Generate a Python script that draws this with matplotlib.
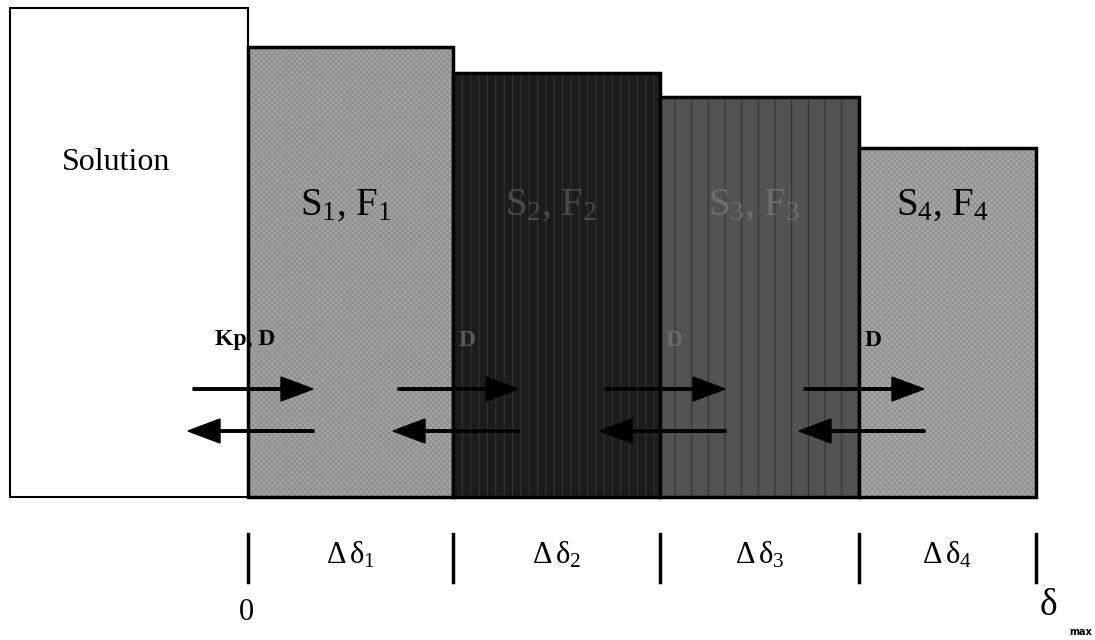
import matplotlib.pyplot as plt
from matplotlib.patches import Rectangle

plt.rcParams['font.family'] = ['Liberation Serif', 'DejaVu Serif']
plt.rcParams['mathtext.fontset'] = 'custom'
plt.rcParams['mathtext.rm'] = 'Liberation Serif'
plt.rcParams['mathtext.it'] = 'Liberation Serif'
plt.rcParams['hatch.linewidth'] = 0.6

# layer data (diagram units = pixels of the original drawing)
layer_edges = [248, 453, 660, 859, 1036]
layer_tops = [47, 73, 97, 148]
layer_bottom = 497
layer_names = ['S$_1$, F$_1$', 'S$_2$, F$_2$', 'S$_3$, F$_3$', 'S$_4$, F$_4$']
layer_colors = ['#a3a3a3', '#1c1c1c', '#525252', '#a6a6a6']
hatch_colors = ['#8a8a8a', '#3a3a3a', '#2a2a2a', '#8c8c8c']
hatches = ['xxxxxx', '||', '|', 'xxxxxx']
text_colors = ['black', '#4a4a4a', '#6e6e6e', 'black']
flux_labels = ['Kp, D', 'D', 'D', 'D']
flux_colors = ['black', '#5a5a5a', '#6a6a6a', 'black']
thickness_labels = [r'$\Delta\,\delta_1$', r'$\Delta\,\delta_2$',
                    r'$\Delta\,\delta_3$', r'$\Delta\,\delta_4$']

fig = plt.figure(figsize=(10.95, 6.4), dpi=100)
ax = fig.add_axes([0, 0, 1, 1])
ax.set_xlim(0, 1095)
ax.set_ylim(640, 0)
ax.axis('off')

# solution compartment
ax.add_patch(Rectangle((10, 8), layer_edges[0] - 10, layer_bottom - 8,
                       facecolor='white', edgecolor='black', lw=1.5))
ax.text(116, 163, 'Solution', fontsize=23, ha='center', va='center')

# film layers
for i in range(4):
    x0, x1 = layer_edges[i], layer_edges[i + 1]
    top = layer_tops[i]
    ax.add_patch(Rectangle((x0, top), x1 - x0, layer_bottom - top,
                           facecolor=layer_colors[i], edgecolor=hatch_colors[i],
                           lw=0, hatch=hatches[i]))
    ax.add_patch(Rectangle((x0, top), x1 - x0, layer_bottom - top,
                           fill=False, edgecolor='black', lw=2.5))
    ax.text((x0 + x1) / 2 - 5, 205, layer_names[i], fontsize=28,
            ha='center', va='center', color=text_colors[i])

# diffusion arrows across each interface
for i in range(4):
    b = layer_edges[i]
    if i == 0:
        ax.text(b - 33, 340, flux_labels[i], fontsize=17, fontweight='bold',
                ha='left', va='center', color=flux_colors[i])
    else:
        ax.text(b + 6, 340, flux_labels[i], fontsize=17, fontweight='bold',
                ha='left', va='center', color=flux_colors[i])
    ax.arrow(b - 55, 389, 120, 0, width=2.5, head_width=24, head_length=32,
             length_includes_head=True, color='black')
    ax.arrow(b + 66, 431, -126, 0, width=2.5, head_width=24, head_length=32,
             length_includes_head=True, color='black')

# thickness axis
for x in layer_edges:
    ax.plot([x, x], [534, 582], color='black', lw=2.5)
for i in range(4):
    ax.text((layer_edges[i] + layer_edges[i + 1]) / 2, 555, thickness_labels[i],
            fontsize=22, ha='center', va='center')

ax.text(layer_edges[0] - 2, 612, '0', fontsize=22, ha='center', va='center')
ax.text(1048, 606, r'$\delta$', fontsize=27, ha='center', va='center')
ax.text(1081, 632, 'max', fontsize=7, fontweight='bold', family='DejaVu Sans',
        ha='center', va='center')

fig.savefig('out.png', dpi=100)
